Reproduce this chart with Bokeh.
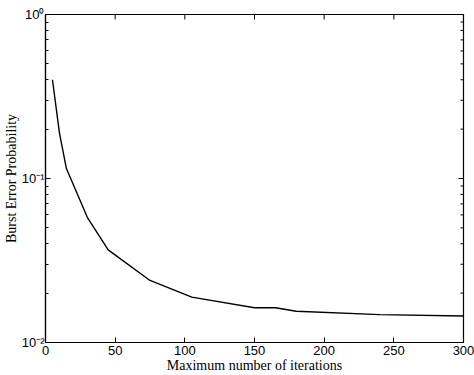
import math
from bokeh.plotting import figure
from bokeh.models import FixedTicker
from bokeh.embed import file_html
from bokeh.resources import INLINE

# Data
iterations = [5, 10, 15, 30, 45, 75, 105, 150, 165, 180, 240, 300]
burst_error = [0.40, 0.19, 0.115, 0.058, 0.0367, 0.0239, 0.0189, 0.0163, 0.0163, 0.0155, 0.0148, 0.0145]

x_ticks = [0, 50, 100, 150, 200, 250, 300]
y_major = [0.01, 0.1, 1.0]
y_labels = {0.01: "10\u207b\u00b2", 0.1: "10\u207b\u00b9", 1.0: "10\u2070"}
y_minor = [m * d for d in (0.01, 0.1) for m in range(2, 10)]

X_MIN, X_MAX = 0, 300
Y_MIN, Y_MAX = 0.01, 1.0

p = figure(width=474, height=375, x_range=(X_MIN, X_MAX), y_range=(Y_MIN, Y_MAX),
           y_axis_type="log", output_backend="svg", toolbar_location=None,
           min_border_left=43, min_border_right=11, min_border_top=14, min_border_bottom=33)

p.line(iterations, burst_error, line_color="black", line_width=1.4)

# mirrored inward ticks on top and right edges (clipped to frame)
p.scatter(x=x_ticks, y=[Y_MAX] * len(x_ticks), marker="dash", angle=math.pi / 2,
          size=10, line_color="black", line_width=1)
p.scatter(x=[X_MAX] * len(y_major), y=y_major, marker="dash",
          size=10, line_color="black", line_width=1)
p.scatter(x=[X_MAX] * len(y_minor), y=y_minor, marker="dash",
          size=6, line_color="black", line_width=1)

p.grid.visible = False
p.outline_line_color = "black"
p.outline_line_width = 1.2
p.background_fill_color = "white"
p.border_fill_color = "white"

def style(ax):
    ax.axis_line_color = "black"
    ax.axis_line_width = 1.2
    ax.major_tick_in = 5
    ax.major_tick_out = 0
    ax.minor_tick_in = 3
    ax.minor_tick_out = 0
    ax.major_tick_line_color = "black"
    ax.minor_tick_line_color = "black"
    ax.major_label_text_font = "Liberation Sans"
    ax.major_label_text_font_size = "13px"
    ax.major_label_text_color = "black"
    ax.axis_label_text_font = "Liberation Serif"
    ax.axis_label_text_font_size = "14px"
    ax.axis_label_text_font_style = "normal"
    ax.axis_label_text_color = "black"

xa = p.xaxis[0]
xa.ticker = FixedTicker(ticks=x_ticks)
style(xa)
xa.axis_label = "Maximum number of iterations"
xa.major_label_standoff = 3
xa.axis_label_standoff = 0

ya = p.yaxis[0]
ya.ticker = FixedTicker(ticks=y_major, minor_ticks=y_minor)
style(ya)
ya.major_label_overrides = y_labels
ya.axis_label = "Burst Error Probability"
ya.major_label_standoff = 1
ya.axis_label_standoff = 0

open("out.html", "w").write(file_html(p, INLINE))
